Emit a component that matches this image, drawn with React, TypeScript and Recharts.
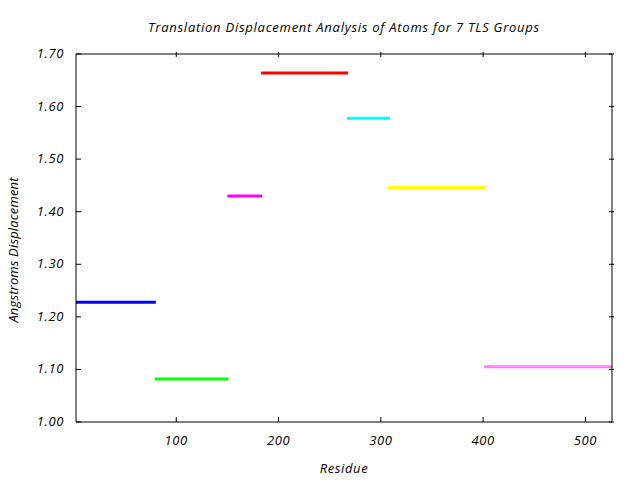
import React from 'react';
import { LineChart, Line, XAxis, YAxis, Label } from 'recharts';

// TLS groups: residue ranges and mean translation displacement
const groupStart = [2, 79, 150, 183, 267, 307, 401];
const groupEnd = [80, 151, 184, 268, 309, 403, 526];
const displacement = [1.228, 1.082, 1.43, 1.664, 1.578, 1.446, 1.105];
const groupColors = ['#0000ff', '#00ff00', '#ff00ff', '#ff0000', '#00ffff', '#ffff00', '#ff80ff'];

const xTicks = [100, 200, 300, 400, 500];
const yTicks = [1.0, 1.1, 1.2, 1.3, 1.4, 1.5, 1.6, 1.7];

const FONT = '"Open Sans", sans-serif';
const FONT_SIZE = 13;
const SPACING = 0.6;
const TICK_LEN = 5;
const X_MARGIN = 14;
const Y_MARGIN = 12;

const textStyle = {
  fontFamily: FONT,
  fontStyle: 'italic',
  fontSize: FONT_SIZE,
  letterSpacing: SPACING,
  fill: '#000',
};

const segments = groupStart.map((s, i) => ({
  id: `g${i + 1}`,
  color: groupColors[i],
  data: [
    { x: s, y: displacement[i] },
    { x: groupEnd[i], y: displacement[i] },
  ],
}));

function BottomTick(props: any) {
  const { x, y, payload } = props;
  const axisY = y - X_MARGIN;
  return (
    <g>
      <line x1={x} y1={axisY} x2={x} y2={axisY - TICK_LEN} stroke="#000" />
      <text x={x} y={y} dy={9} textAnchor="middle" style={textStyle}>
        {payload.value}
      </text>
    </g>
  );
}

function TopTick(props: any) {
  const { x, y } = props;
  return <line x1={x} y1={y} x2={x} y2={y + TICK_LEN} stroke="#000" />;
}

function LeftTick(props: any) {
  const { x, y, payload } = props;
  const axisX = x + Y_MARGIN;
  return (
    <g>
      <line x1={axisX} y1={y} x2={axisX + TICK_LEN} y2={y} stroke="#000" />
      <text x={x} y={y} dy={4} textAnchor="end" style={textStyle}>
        {Number(payload.value).toFixed(2)}
      </text>
    </g>
  );
}

function RightTick(props: any) {
  const { x, y } = props;
  return <line x1={x} y1={y} x2={x - TICK_LEN} y2={y} stroke="#000" />;
}

function YTitle(props: any) {
  const { viewBox } = props;
  const cx = 18;
  const cy = viewBox.y + viewBox.height / 2 + 12;
  return (
    <text
      x={cx}
      y={cy}
      transform={`rotate(-90, ${cx}, ${cy})`}
      textAnchor="middle"
      style={{ ...textStyle, letterSpacing: 0.15 }}
    >
      Angstroms Displacement
    </text>
  );
}

export default function App() {
  return (
    <div style={{ position: 'absolute', left: 0, top: 0, width: 640, height: 480, background: '#fff' }}>
      <div
        style={{
          position: 'absolute',
          top: 18,
          left: 76,
          width: 536,
          textAlign: 'center',
          fontFamily: FONT,
          fontStyle: 'italic',
          fontSize: FONT_SIZE,
          letterSpacing: 0.75,
        }}
      >
        Translation Displacement Analysis of Atoms for 7 TLS Groups
      </div>
      <LineChart width={640} height={480} margin={{ top: 53, right: 27, left: 0, bottom: 0 }}>
        <XAxis
          type="number"
          dataKey="x"
          domain={[2, 526]}
          ticks={xTicks}
          allowDataOverflow
          height={58}
          tickSize={0}
          tickMargin={X_MARGIN}
          tick={<BottomTick />}
          stroke="#000"
        >
          <Label value="Residue" position="insideBottom" offset={7} style={textStyle} />
        </XAxis>
        <XAxis
          xAxisId="top"
          orientation="top"
          type="number"
          dataKey="x"
          domain={[2, 526]}
          ticks={xTicks}
          allowDataOverflow
          height={1}
          tickSize={0}
          tick={<TopTick />}
          stroke="#000"
        />
        <YAxis
          type="number"
          domain={[1, 1.7]}
          ticks={yTicks}
          allowDataOverflow
          width={76}
          tickSize={0}
          tickMargin={Y_MARGIN}
          tick={<LeftTick />}
          stroke="#000"
        >
          <Label content={<YTitle />} />
        </YAxis>
        <YAxis
          yAxisId="right"
          orientation="right"
          type="number"
          domain={[1, 1.7]}
          ticks={yTicks}
          allowDataOverflow
          width={1}
          tickSize={0}
          tick={<RightTick />}
          stroke="#000"
        />
        {segments.map((seg) => (
          <Line
            key={seg.id}
            data={seg.data}
            dataKey="y"
            stroke={seg.color}
            strokeWidth={3}
            dot={false}
            activeDot={false}
            isAnimationActive={false}
          />
        ))}
      </LineChart>
    </div>
  );
}
